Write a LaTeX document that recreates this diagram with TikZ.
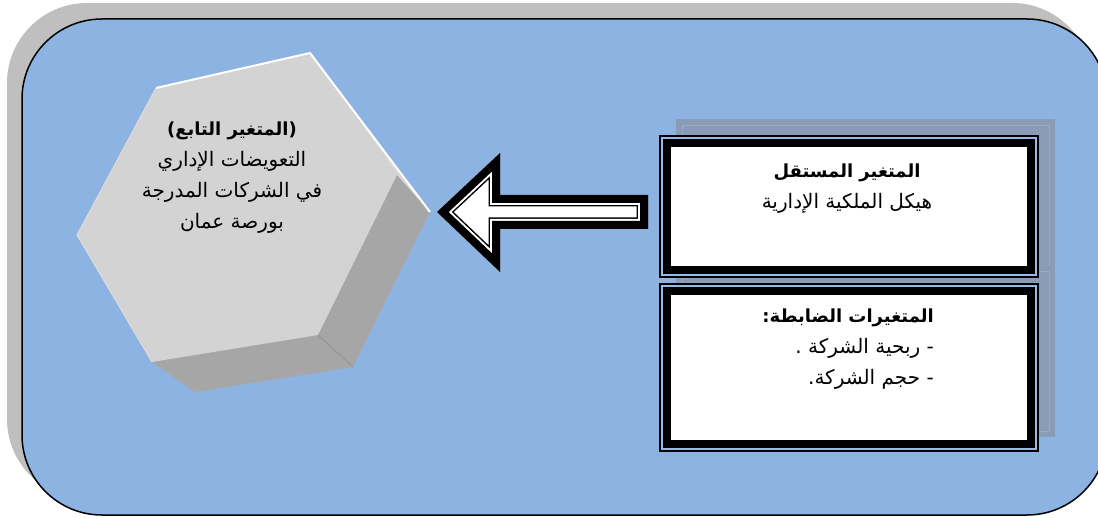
\documentclass[tikz,border=0pt]{standalone}
\usepackage{fontspec}
\newfontfamily\arabicfont[Script=Arabic]{DejaVu Sans}
\TeXXeTstate=1
\newcommand{\artxt}[1]{\beginR #1\endR}
\newcommand{\arbold}[1]{{\bfseries\fontsize{18}{31}\selectfont\beginR #1\endR}}
\definecolor{bgblue}{RGB}{141,179,226}
\definecolor{outshadow}{RGB}{191,191,191}
\definecolor{hexfront}{RGB}{211,211,211}
\definecolor{hexsliver}{RGB}{220,220,220}
\definecolor{hexside}{RGB}{166,166,166}
\definecolor{boxshadow}{RGB}{137,155,181}
\definecolor{boxshadowline}{RGB}{152,172,202}
\definecolor{gapblue}{RGB}{150,185,230}
\tikzset{
  arabictext/.style={font=\arabicfont\fontsize{20}{31}\selectfont, text=black, inner sep=0pt},
}
\begin{document}
\begin{tikzpicture}[x=1pt,y=-1pt]
\useasboundingbox (0,0) rectangle (1098,518);
% outer frame
\fill[outshadow, rounded corners=80pt] (7,3) rectangle (1092,499);
\draw[black, line width=1.5pt, fill=bgblue, rounded corners=80pt] (22,19) rectangle (1107,515);

% hexagon
\fill[hexside] (156,88) -- (310,53) -- (430,212) -- (353,367) -- (195,392) -- (152,362) -- (77,235) -- cycle;
\fill[hexfront] (156,88) -- (310,53) -- (397,175) -- (318,335) -- (152,362) -- (77,235) -- cycle;
\fill[hexfront!60!hexsliver] (310,53) -- (430,212) -- (397,175) -- cycle;
\draw[white, line width=2pt, line join=round] (156,88) -- (310,53) -- (430,212);
\draw[hexsliver, line width=1pt] (156,88) -- (77,235) -- (152,362);
\draw[hexside!85!black, line width=0.6pt] (318,335) -- (353,367);
\node[arabictext, align=center] (hex) at (232,178) {%
  \arbold{(المتغير التابع)}\\
  \artxt{التعويضات الإداري}\\
  \artxt{في الشركات المدرجة}\\
  \artxt{بورصة عمان}};

% arrow
\begin{scope}
  \clip (437,212) -- (500,153) -- (500,195) -- (648,195) -- (648,229) -- (500,229) -- (500,272) -- cycle;
  \fill[white] (437,212) -- (500,153) -- (500,195) -- (648,195) -- (648,229) -- (500,229) -- (500,272) -- cycle;
  \draw[black, line width=23pt, miter limit=20] (437,212) -- (500,153) -- (500,195) -- (648,195) -- (648,229) -- (500,229) -- (500,272) -- cycle;
  \draw[white, line width=20pt, miter limit=20] (437,212) -- (500,153) -- (500,195) -- (648,195) -- (648,229) -- (500,229) -- (500,272) -- cycle;
  \draw[black, line width=16pt, miter limit=20] (437,212) -- (500,153) -- (500,195) -- (648,195) -- (648,229) -- (500,229) -- (500,272) -- cycle;
\end{scope}

% box shadows
\fill[boxshadow] (676,119) rectangle (1055,271);
\draw[boxshadowline, line width=0.8pt] (682,125) rectangle (1049,265);
\fill[boxshadow] (676,265) rectangle (1055,437);
\draw[boxshadowline, line width=0.8pt] (682,271) rectangle (1049,431);

% box 1
\fill[gapblue] (659,135) rectangle (1039,278);
\draw[black, line width=2pt] (660,136) rectangle (1038,277);
\fill[black] (663,139) rectangle (1035,274);
\fill[white] (671,147) rectangle (1027,266);
\node[arabictext, align=center] (indep) at (847,189) {%
  \arbold{المتغير المستقل}\\
  \artxt{هيكل الملكية الإدارية}};

% box 2
\fill[gapblue] (659,283) rectangle (1039,452);
\draw[black, line width=2pt] (660,284) rectangle (1038,451);
\fill[black] (663,287) rectangle (1035,448);
\fill[white] (671,295) rectangle (1027,440);
\node[arabictext, align=right, anchor=east] (ctrl) at (934,349) {%
  \arbold{المتغيرات الضابطة:}\\
  \artxt{- ربحية الشركة .}\\
  \artxt{- حجم الشركة.}};
\end{tikzpicture}
\end{document}
